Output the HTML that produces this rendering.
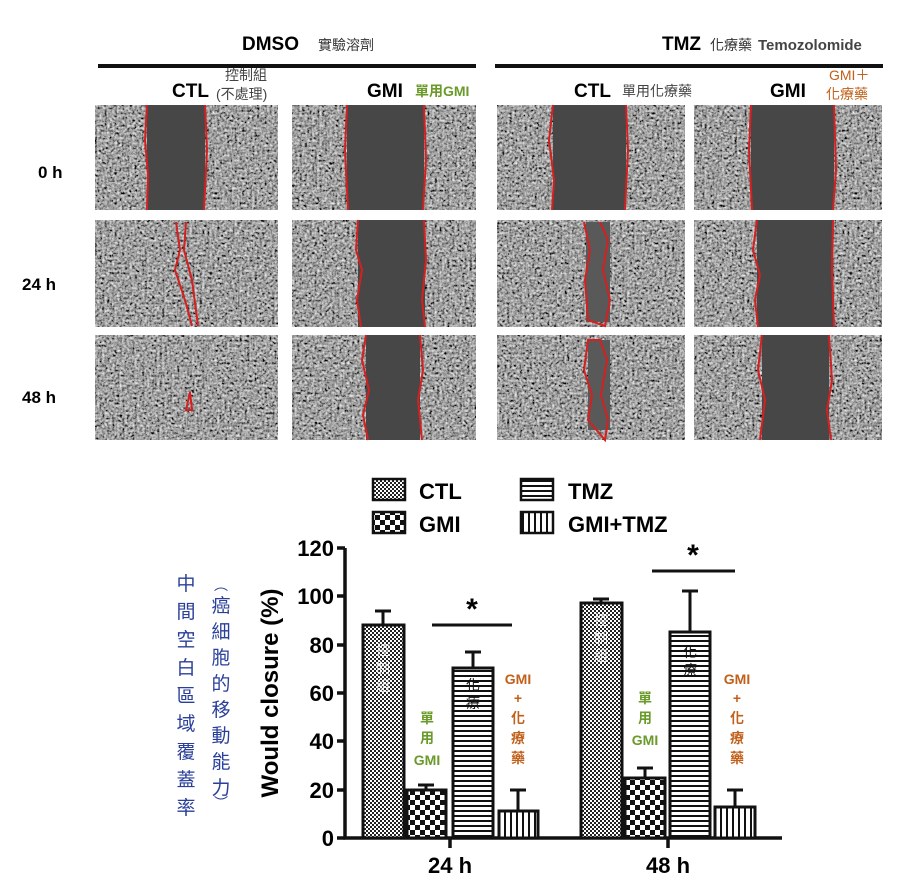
<!DOCTYPE html>
<html><head><meta charset="utf-8"><style>
body{margin:0;background:#fff}
svg{display:block}
text{font-family:"Liberation Sans","Noto Sans CJK TC",sans-serif}
</style></head><body>
<svg width="900" height="892" viewBox="0 0 900 892" xmlns="http://www.w3.org/2000/svg">
<defs>
<filter id="tx" x="0" y="0" width="100%" height="100%" filterUnits="userSpaceOnUse">
<feTurbulence type="fractalNoise" baseFrequency="0.4" numOctaves="2" seed="3" result="n"/>
<feColorMatrix in="n" type="matrix" values="0.9 0.9 0 0 -0.55  0.9 0.9 0 0 -0.55  0.9 0.9 0 0 -0.55  0 0 0 0 1"/>
</filter>
<clipPath id="cp">
<rect x="95" y="105" width="183" height="105"/><rect x="292" y="105" width="184" height="105"/><rect x="497" y="105" width="188" height="105"/><rect x="694" y="105" width="188" height="105"/>
<rect x="95" y="220" width="183" height="107"/><rect x="292" y="220" width="184" height="107"/><rect x="497" y="220" width="188" height="107"/><rect x="694" y="220" width="188" height="107"/>
<rect x="95" y="335" width="183" height="105"/><rect x="292" y="335" width="184" height="105"/><rect x="497" y="335" width="188" height="105"/><rect x="694" y="335" width="188" height="105"/>
</clipPath>
<pattern id="p1" width="4" height="4" patternUnits="userSpaceOnUse"><rect width="4" height="4" fill="#fff"/><rect width="2" height="2" fill="#222"/><rect x="2" y="2" width="2" height="2" fill="#222"/></pattern>
<pattern id="p2" width="10" height="10" patternUnits="userSpaceOnUse"><rect width="10" height="10" fill="#fff"/><rect width="5" height="5" fill="#111"/><rect x="5" y="5" width="5" height="5" fill="#111"/></pattern>
<pattern id="p3" width="6" height="5" patternUnits="userSpaceOnUse"><rect width="6" height="5" fill="#fff"/><rect width="6" height="2" fill="#111"/></pattern>
<pattern id="p4" width="6" height="6" patternUnits="userSpaceOnUse"><rect width="6" height="6" fill="#fff"/><rect width="2" height="6" fill="#111"/></pattern>
</defs>

<text x="242" y="50" font-size="19" font-weight="bold">DMSO</text>
<text x="318" y="50" font-size="14" fill="#333">實驗溶劑</text>
<text x="662" y="50" font-size="19" font-weight="bold">TMZ</text>
<text x="710" y="50" font-size="14" fill="#333">化療藥</text>
<text x="758" y="50" font-size="15" font-weight="bold" fill="#444">Temozolomide</text>
<rect x="98" y="64" width="378" height="4" fill="#111"/>
<rect x="495" y="64" width="388" height="4" fill="#111"/>
<text x="172" y="97" font-size="19" font-weight="bold">CTL</text>
<text x="225" y="80" font-size="14" fill="#444">控制組</text>
<text x="216" y="99" font-size="14" fill="#444">(不處理)</text>
<text x="367" y="97" font-size="19" font-weight="bold">GMI</text>
<text x="415" y="96" font-size="14" font-weight="bold" fill="#6a9a2a">單用GMI</text>
<text x="574" y="97" font-size="19" font-weight="bold">CTL</text>
<text x="622" y="96" font-size="14" fill="#444">單用化療藥</text>
<text x="770" y="97" font-size="19" font-weight="bold">GMI</text>
<text x="829" y="80" font-size="14" fill="#c0601a">GMI＋</text>
<text x="826" y="99" font-size="14" fill="#c0601a">化療藥</text>

<text x="38" y="178" font-size="17" font-weight="bold">0 h</text>
<text x="22" y="290" font-size="17" font-weight="bold">24 h</text>
<text x="22" y="403" font-size="17" font-weight="bold">48 h</text>

<g clip-path="url(#cp)">
<rect x="90" y="100" width="800" height="345" filter="url(#tx)"/>
</g>
<g fill="#474747">
<rect x="147" y="105" width="58" height="105"/><rect x="347" y="105" width="77" height="105"/><rect x="553" y="105" width="73" height="105"/><rect x="751" y="105" width="83" height="105"/>
<rect x="358" y="220" width="67" height="107"/><rect x="586" y="222" width="24" height="100" fill="#595959"/><rect x="757" y="220" width="76" height="107"/>
<rect x="366" y="335" width="54" height="105"/><rect x="588" y="340" width="22" height="90" fill="#595959"/><rect x="762" y="335" width="67" height="105"/>
</g>
<g fill="none" stroke="#d42020" stroke-width="2">
<path d="M147 105 L145 140 L148 175 L147 210"/><path d="M205 105 L207 150 L204 210"/>
<path d="M347 105 L345 150 L348 210"/><path d="M424 105 L426 160 L423 210"/>
<path d="M553 105 L549 140 L554 180 L552 210"/><path d="M626 105 L628 150 L625 210"/>
<path d="M751 105 L749 150 L752 210"/><path d="M834 105 L836 170 L833 210"/>
<path d="M176 222 L180 250 L175 270 L185 300 L192 326"/><path d="M186 222 L184 250 L192 280 L198 326"/>
<path d="M358 220 L356 250 L362 270 L357 300 L361 327"/><path d="M424 220 L426 260 L422 300 L425 327"/>
<path d="M584 222 L590 250 L585 280 L588 320 L605 326 L610 300 L603 270 L608 240 L600 222"/>
<path d="M757 220 L753 250 L760 275 L755 300 L758 327"/><path d="M833 220 L832 270 L834 327"/>
<path d="M186 410 L190 392 L192 410 Z"/>
<path d="M366 335 L362 360 L369 390 L363 415 L368 440"/><path d="M420 335 L423 370 L418 400 L422 440"/>
<path d="M588 340 L584 370 L592 395 L588 420 L605 440 L608 420 L601 395 L607 360 L600 340 Z"/>
<path d="M762 335 L758 370 L765 400 L760 440"/><path d="M829 335 L832 380 L827 410 L831 440"/>
</g>

<rect x="373" y="479" width="32" height="21" fill="url(#p1)" stroke="#111" stroke-width="2.5"/>
<text x="419" y="499" font-size="22" font-weight="bold">CTL</text>
<rect x="521" y="479" width="32" height="21" fill="url(#p3)" stroke="#111" stroke-width="2.5"/>
<text x="568" y="499" font-size="22" font-weight="bold">TMZ</text>
<rect x="373" y="512" width="32" height="21" fill="url(#p2)" stroke="#111" stroke-width="2.5"/>
<text x="419" y="532" font-size="22" font-weight="bold">GMI</text>
<rect x="521" y="512" width="32" height="21" fill="url(#p4)" stroke="#111" stroke-width="2.5"/>
<text x="568" y="532" font-size="22" font-weight="bold">GMI+TMZ</text>

<g stroke="#111" stroke-width="3.5" fill="none">
<path d="M345 548 V838 H782"/>
<path d="M337 548H345M337 596H345M337 645H345M337 693H345M337 741H345M337 790H345M337 838H345"/>
<path d="M450 838V848M668 838V848"/>
</g>
<g font-size="22" font-weight="bold" text-anchor="end">
<text x="334" y="556">120</text><text x="334" y="604">100</text><text x="334" y="653">80</text><text x="334" y="701">60</text><text x="334" y="749">40</text><text x="334" y="798">20</text><text x="334" y="846">0</text>
</g>
<text x="450" y="873" font-size="22" font-weight="bold" text-anchor="middle">24 h</text>
<text x="668" y="873" font-size="22" font-weight="bold" text-anchor="middle">48 h</text>
<text transform="translate(278,693) rotate(-90)" font-size="24" font-weight="bold" text-anchor="middle">Would closure (%)</text>

<g stroke="#111" stroke-width="3">
<path d="M383 625V611M375 611H391"/><path d="M426 790V785M418 785H434"/>
<path d="M473 668V652M465 652H481"/><path d="M518 811V790M510 790H526"/>
<path d="M601 603V599M593 599H609"/><path d="M645 778V768M637 768H653"/>
<path d="M690 632V591M682 591H698"/><path d="M735 807V790M727 790H743"/>
<path d="M432 625H512M652 571H735"/>
</g>
<g stroke="#111" stroke-width="3">
<rect x="363" y="625" width="41" height="213" fill="url(#p1)"/>
<rect x="407" y="790" width="39" height="48" fill="url(#p2)"/>
<rect x="453" y="668" width="40" height="170" fill="url(#p3)"/>
<rect x="499" y="811" width="39" height="27" fill="url(#p4)"/>
<rect x="581" y="603" width="41" height="235" fill="url(#p1)"/>
<rect x="625" y="778" width="40" height="60" fill="url(#p2)"/>
<rect x="670" y="632" width="40" height="206" fill="url(#p3)"/>
<rect x="715" y="807" width="40" height="31" fill="url(#p4)"/>
</g>
<text x="472" y="619" font-size="30" font-weight="bold" text-anchor="middle">*</text>
<text x="693" y="565" font-size="30" font-weight="bold" text-anchor="middle">*</text>

<g font-size="14" text-anchor="middle">
<g fill="#fff" fill-opacity="0.8"><text x="383" y="655">控</text><text x="383" y="673">制</text><text x="383" y="691">組</text>
<text x="601" y="625">控</text><text x="601" y="643">制</text><text x="601" y="661">組</text></g>
<g fill="#111"><text x="473" y="690">化</text><text x="473" y="708">療</text><text x="690" y="657">化</text><text x="690" y="675">療</text></g>
<g fill="#6a9a2a" font-weight="bold"><text x="427" y="723">單</text><text x="427" y="743">用</text><text x="427" y="765">GMI</text>
<text x="645" y="703">單</text><text x="645" y="723">用</text><text x="645" y="745">GMI</text></g>
<g fill="#c0601a" font-weight="bold"><text x="518" y="684">GMI</text><text x="518" y="703">+</text><text x="518" y="723">化</text><text x="518" y="743">療</text><text x="518" y="763">藥</text>
<text x="737" y="684">GMI</text><text x="737" y="703">+</text><text x="737" y="723">化</text><text x="737" y="743">療</text><text x="737" y="763">藥</text></g>
</g>
<g font-size="19" fill="#2a3f9a" text-anchor="middle">
<text x="186" y="590">中</text><text x="186" y="618">間</text><text x="186" y="646">空</text><text x="186" y="674">白</text><text x="186" y="702">區</text><text x="186" y="730">域</text><text x="186" y="758">覆</text><text x="186" y="786">蓋</text><text x="186" y="814">率</text>
<text x="221" y="590" font-size="14">︵</text>
<text x="221" y="612">癌</text><text x="221" y="638">細</text><text x="221" y="664">胞</text><text x="221" y="690">的</text><text x="221" y="716">移</text><text x="221" y="742">動</text><text x="221" y="768">能</text><text x="221" y="794">力</text>
<text x="221" y="808" font-size="14">︶</text>
</g>
</svg>
</body></html>
